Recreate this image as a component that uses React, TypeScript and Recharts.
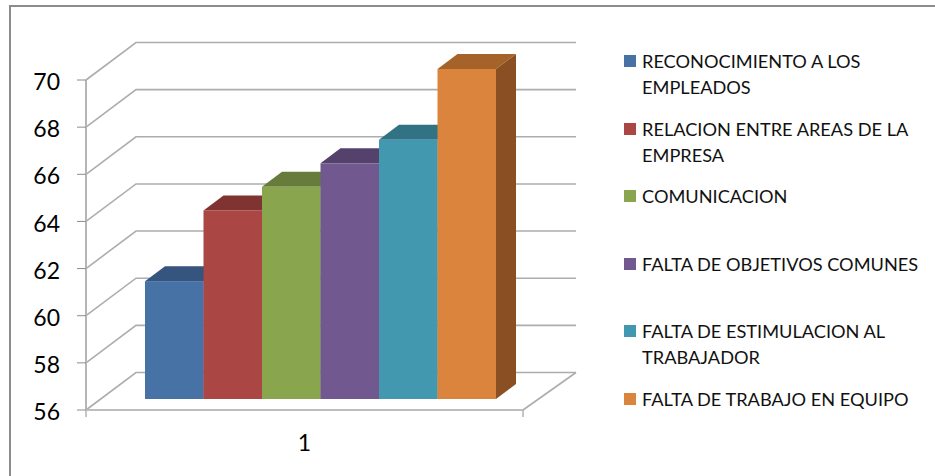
import { Bar, BarChart, CartesianGrid, Legend, XAxis, YAxis } from "recharts";

const categories = ["1"];
const seriesNames = [
  "RECONOCIMIENTO A LOS EMPLEADOS",
  "RELACION ENTRE AREAS DE LA EMPRESA",
  "COMUNICACION",
  "FALTA DE OBJETIVOS COMUNES",
  "FALTA DE ESTIMULACION AL TRABAJADOR",
  "FALTA DE TRABAJO EN EQUIPO",
];
const seriesValues = [61, 64, 65, 66, 67, 70];
const yTicks = [56, 58, 60, 62, 64, 66, 68, 70];

const frontColors = ["#4672A6", "#AA4644", "#89A54E", "#71588F", "#4198AF", "#DB843D"];
const topColors = ["#35557F", "#7F3432", "#677C3B", "#55426C", "#317284", "#A56329"];
const sideColors = ["#2E4A6E", "#6E2D2B", "#5A6C33", "#4A395E", "#2A6373", "#8A5024"];

const rows = categories.map((name) => {
  const row: Record<string, string | number> = { name };
  seriesNames.forEach((s, i) => {
    row[s] = seriesValues[i];
  });
  return row;
});

const FONT = "Lato, sans-serif";
const PLOT_BOTTOM = 410;

// wall and floor depth, in pixels
const WALL_DX = 50;
const WALL_DX_RIGHT = 53;
const WALL_DY = 37.5;

// bars stand part way into the floor
const BAR_SHIFT_X = 16;
const BAR_SHIFT_Y = 11;
const BAR_DEPTH_X = 20;
const BAR_DEPTH_Y = 15;

function WallLine(props: any) {
  const { x1, y1, x2 } = props;
  const backY = y1 - WALL_DY;
  const isFloor = Math.abs(y1 - PLOT_BOTTOM) < 1;
  return (
    <g key={props.key ?? y1}>
      <path
        d={`M${x1},${y1}L${x1 + WALL_DX},${backY}L${x2 + WALL_DX_RIGHT},${backY}`}
        fill="none"
        stroke="#adadad"
        strokeWidth={1.6}
      />
      {isFloor && (
        <>
          <path
            d={`M${x2},${y1}L${x2 + WALL_DX_RIGHT},${backY}`}
            fill="none"
            stroke="#adadad"
            strokeWidth={1.6}
          />
          <path d={`M${x1},${y1}V${y1 + 7}M${x2},${y1}V${y1 + 7}`} stroke="#8c8c8c" strokeWidth={1} />
        </>
      )}
    </g>
  );
}

function Box3D(props: any) {
  const { x, y, width, height, fill, top, side } = props;
  const left = x + BAR_SHIFT_X;
  const right = left + width;
  const upper = y - BAR_SHIFT_Y;
  const lower = upper + height;
  return (
    <g>
      <path
        d={`M${left},${upper}L${left + BAR_DEPTH_X},${upper - BAR_DEPTH_Y}H${right + BAR_DEPTH_X}L${right},${upper}Z`}
        fill={top}
      />
      <path
        d={`M${right},${upper}L${right + BAR_DEPTH_X},${upper - BAR_DEPTH_Y}V${lower - BAR_DEPTH_Y}L${right},${lower}Z`}
        fill={side}
      />
      <rect x={left} y={upper} width={width} height={height} fill={fill} />
    </g>
  );
}

function LegendList({ payload }: any) {
  return (
    <div style={{ fontFamily: FONT, fontSize: 18.2, lineHeight: "26px", color: "#111" }}>
      {(payload ?? []).map((item: any) => (
        <div key={item.value} style={{ display: "flex", height: 67.6 }}>
          <span
            style={{
              flex: "none",
              width: 12,
              height: 12,
              marginTop: 7,
              marginRight: 6,
              background: item.color,
            }}
          />
          <span style={{ width: 290 }}>{item.value}</span>
        </div>
      ))}
    </div>
  );
}

export default function App() {
  return (
    <div style={{ position: "absolute", left: 0, top: 0, width: 935, height: 476, overflow: "hidden", background: "#fff" }}>
      <div
        style={{
          position: "absolute",
          left: 9,
          top: 5,
          right: 0,
          bottom: 0,
          borderTop: "2px solid #8c8c8c",
          borderLeft: "2px solid #8c8c8c",
        }}
      />
      <BarChart
        width={935}
        height={476}
        data={rows}
        margin={{ top: 80, right: 412, bottom: 0, left: 0 }}
        barSize={58.5}
        barGap={0}
        style={{ position: "absolute", left: 0, top: 0 }}
      >
        <CartesianGrid vertical={false} horizontal={WallLine} syncWithTicks />
        <XAxis
          dataKey="name"
          height={66}
          tickLine={false}
          axisLine={{ stroke: "#bdbdbd", strokeWidth: 2 }}
          tick={{ fill: "#000", fontSize: 23, fontFamily: FONT }}
          tickMargin={19}
        />
        <YAxis
          width={86}
          domain={[56, 70]}
          ticks={yTicks}
          interval={0}
          axisLine={{ stroke: "#b5b5b5", strokeWidth: 2 }}
          tickLine={{ stroke: "#8c8c8c" }}
          tickSize={9}
          tickMargin={17}
          tick={{ fill: "#000", fontSize: 23, fontFamily: FONT, dy: 2 }}
        />
        <Legend
          layout="vertical"
          align="center"
          verticalAlign="middle"
          itemSorter={null}
          content={<LegendList />}
          wrapperStyle={{ left: 624, top: 48, width: 311, height: 416 }}
        />
        {seriesNames.map((s, i) => (
          <Bar
            key={s}
            dataKey={s}
            fill={frontColors[i]}
            isAnimationActive={false}
            shape={(p: any) => <Box3D {...p} top={topColors[i]} side={sideColors[i]} />}
          />
        ))}
      </BarChart>
    </div>
  );
}
